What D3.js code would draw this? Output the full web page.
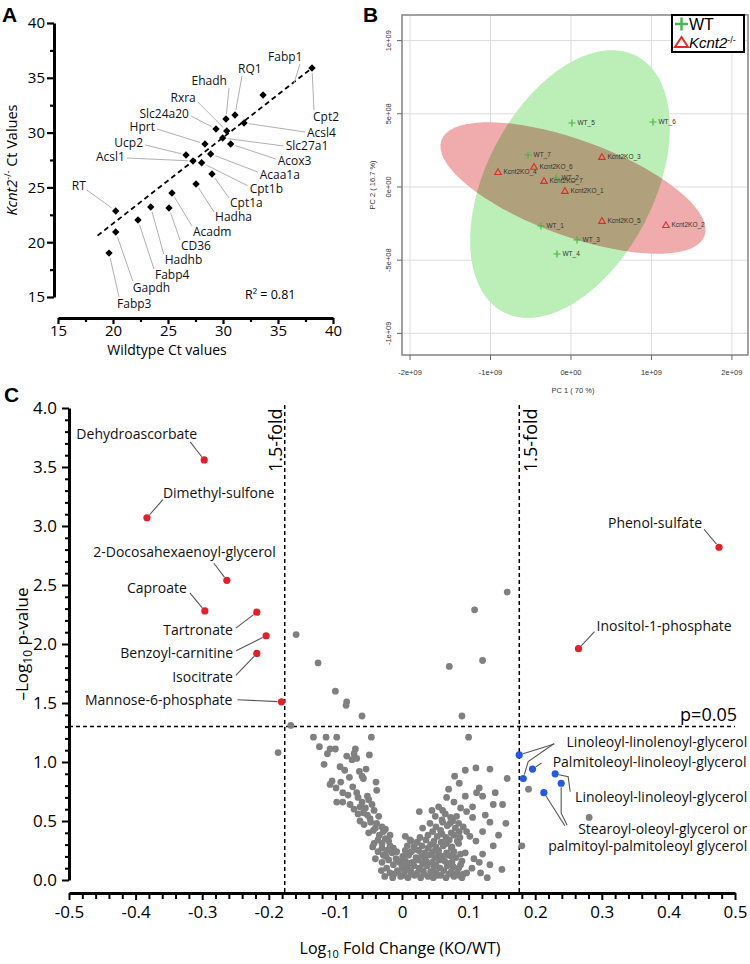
<!DOCTYPE html>
<html><head><meta charset="utf-8">
<script src="https://cdn.jsdelivr.net/npm/d3@7/dist/d3.min.js"></script>
<style>
body{margin:0;background:#fff;}
svg{font-family:"Open Sans",sans-serif;display:block;}
</style></head><body>
<svg id="c" width="750" height="964"></svg>
<script>
// ================= DATA =================
// Panel A: qPCR Ct values
const genes = ["Fabp3","Gapdh","RT","Fabp4","Hadhb","CD36","Acadm","Hadha","Cpt1a","Cpt1b","Acsl1","Acaa1a","Ucp2","Hprt","Acox3","Slc27a1","Slc24a20","Rxra","Acsl4","Ehadh","RQ1","Fabp1","Cpt2"];
const wtCt = [19.64,20.25,20.25,22.27,23.43,25.09,25.36,27.55,29.0,28.06,27.27,28.88,26.64,28.36,30.7,29.97,29.36,30.34,31.91,30.27,31.09,33.64,38.09];
const koCt = [19.01,20.93,22.85,22.03,23.21,23.12,24.49,25.31,26.22,27.25,27.41,28.05,27.96,28.96,28.96,29.51,30.33,30.15,30.88,31.24,31.61,33.43,35.89];
const trendWt = [18.6, 38.1];
const trendKo = [20.6, 35.9];
const aTicks = [15,20,25,30,35,40];
const aMinor = [17.5,22.5,27.5,32.5,37.5];
const rSquared = "0.81";

// Panel B: PCA scores
const pcaSamples = ["WT_1","WT_2","WT_3","WT_4","WT_5","WT_6","WT_7","Kcnt2KO_1","Kcnt2KO_2","Kcnt2KO_3","Kcnt2KO_4","Kcnt2KO_5","Kcnt2KO_6","Kcnt2KO_7"];
const pcaGroup = ["WT","WT","WT","WT","WT","WT","WT","KO","KO","KO","KO","KO","KO","KO"];
const pc1 = [-0.373e9,-0.186e9,0.075e9,-0.174e9,0.012e9,1.019e9,-0.534e9,-0.075e9,1.18e9,0.385e9,-0.907e9,0.385e9,-0.46e9,-0.335e9];
const pc2 = [-2.66e8,0.61e8,-3.62e8,-4.58e8,4.37e8,4.44e8,2.19e8,-0.27e8,-2.6e8,2.05e8,1.02e8,-2.32e8,1.37e8,0.41e8];
const wtEllipseCenter = [-0.012e9, 0.02e9];
const wtEllipseAxes = [[0.826e9, 0.876e9],[0.927e9,-0.264e9]];
const koEllipseCenter = [0.025e9, -0.007e9];
const koEllipseAxes = [[1.635e9,-0.327e9],[-0.204e9,-0.308e9]];
const pcXTicks = [-2e9,-1e9,0,1e9,2e9];
const pcXLabels = ["-2e+09","-1e+09","0e+00","1e+09","2e+09"];
const pcYTicks = [-1e9,-5e8,0,5e8,1e9];
const pcYLabels = ["-1e+09","-5e+08","0e+00","5e+08","1e+09"];

// Panel C: volcano
const redNames = ["Dehydroascorbate","Dimethyl-sulfone","2-Docosahexaenoyl-glycerol","Caproate","Tartronate","Benzoyl-carnitine","Isocitrate","Mannose-6-phosphate","Phenol-sulfate","Inositol-1-phosphate"];
const redFC = [-0.297,-0.383,-0.263,-0.296,-0.218,-0.204,-0.218,-0.181,0.476,0.265];
const redP  = [3.56,3.07,2.54,2.28,2.27,2.07,1.92,1.51,2.82,1.96];
const blueIds = ["A","B","C","D","E","F"];
const blueFC = [0.176,0.196,0.182,0.230,0.239,0.213];
const blueP  = [1.06,0.94,0.86,0.90,0.82,0.74];
const grayFC = [0.158,0.109,-0.159,-0.126,0.071,0.121,-0.100,-0.083,-0.084,-0.060,0.090,-0.167,0.100,-0.186,
-0.133,-0.114,-0.098,-0.046,-0.124,-0.108,-0.100,-0.112,-0.070,-0.049,-0.083,-0.075,-0.068,-0.072,-0.054,-0.079,-0.060,-0.039,-0.105,-0.092,-0.099,-0.108,-0.074,-0.068,-0.038,-0.052,-0.098,-0.089,-0.072,-0.063,-0.058,-0.050,-0.045,-0.042,-0.035,-0.048,-0.038,-0.030,-0.043,-0.028,-0.034,-0.025,-0.020,-0.030,-0.018,-0.023,-0.013,-0.028,-0.015,-0.008,-0.020,-0.009,-0.023,-0.013,-0.003,-0.018,-0.006,0.002,
-0.064,-0.058,-0.081,-0.066,-0.060,-0.078,-0.055,-0.066,-0.052,-0.047,-0.057,-0.040,-0.050,-0.036,-0.042,-0.030,-0.036,-0.024,-0.030,-0.012,-0.026,-0.014,-0.031,-0.040,-0.044,-0.089,-0.086,-0.093,-0.117,-0.063,-0.025,-0.018,
-0.002,0.009,0.019,0.028,0.039,0.047,0.058,0.066,0.078,0.086,
-0.007,0.004,0.013,0.023,0.032,0.043,0.051,0.063,0.074,0.083,0.092,
0.000,0.008,0.018,0.026,0.038,0.048,0.057,0.068,0.077,0.085,
-0.004,0.005,0.016,0.024,0.036,0.045,0.056,0.064,0.075,
0.001,0.010,0.021,0.029,0.040,0.049,0.061,0.070,0.081,
0.005,0.014,0.025,0.034,0.046,0.055,0.067,0.078,
0.008,0.018,0.030,0.039,0.051,0.062,0.074,
0.014,0.023,0.036,0.048,0.059,0.071,0.083,
0.005,0.039,0.053,0.066,0.078,
0.046,0.058,0.074,0.086,
0.051,0.068,0.080,
0.061,0.076,
0.050,0.073,
0.003,0.014,0.033,0.053,0.071,0.090,0.011,0.031,0.051,0.072,0.088,0.006,0.034,0.055,0.075,0.088,0.020,0.043,0.067,0.027,0.060,0.087,0.031,0.042,0.085,0.065,0.082,0.055,0.088,0.070,0.079,0.125,0.145,0.105,0.118,
0.012,0.026,0.045,0.061,0.060,0.072,0.067,0.078,0.086,0.095,0.111,0.132,0.158,0.116,0.112,0.095,0.121,0.140,0.106,0.137,0.151,0.097,0.106,0.132,0.156,0.097,0.121,0.111,0.137,0.095,0.108,0.121,0.116,0.132,0.150,0.128,0.092,0.085,0.102,0.075,0.090,0.097,
0.190,0.180,0.281];
const grayP = [2.44,2.29,2.08,1.84,1.81,1.86,1.60,1.51,1.48,1.39,1.39,1.31,1.21,1.08,
1.21,1.21,1.21,1.21,1.13,1.11,1.11,1.07,1.11,1.06,1.05,1.02,1.03,1.07,0.94,0.87,0.88,0.83,0.84,0.83,0.78,0.81,0.79,0.74,0.76,0.71,0.66,0.66,0.60,0.62,0.57,0.68,0.64,0.59,0.54,0.52,0.48,0.45,0.42,0.41,0.38,0.35,0.33,0.31,0.29,0.25,0.27,0.21,0.23,0.24,0.17,0.18,0.10,0.13,0.16,0.06,0.07,0.10,
0.92,0.86,0.72,0.70,0.66,0.64,0.61,0.56,0.55,0.49,0.47,0.44,0.40,0.34,0.31,0.27,0.24,0.20,0.15,0.05,0.03,0.02,0.08,0.18,0.28,0.74,0.93,0.96,0.98,0.50,0.43,0.38,
0.03,0.02,0.04,0.02,0.03,0.02,0.04,0.02,0.03,0.04,
0.08,0.07,0.08,0.06,0.08,0.07,0.06,0.08,0.07,0.06,0.05,
0.12,0.11,0.12,0.10,0.12,0.11,0.10,0.12,0.11,0.10,
0.15,0.16,0.15,0.17,0.16,0.15,0.17,0.16,0.15,
0.20,0.21,0.19,0.20,0.21,0.19,0.20,0.21,0.19,
0.25,0.24,0.25,0.23,0.24,0.25,0.23,0.24,
0.29,0.28,0.29,0.27,0.28,0.29,0.27,
0.33,0.32,0.34,0.33,0.32,0.34,0.33,
0.37,0.38,0.37,0.36,0.38,
0.41,0.42,0.40,0.41,
0.45,0.46,0.44,
0.49,0.50,
0.54,0.53,
0.04,0.05,0.05,0.04,0.05,0.02,0.14,0.14,0.13,0.14,0.13,0.22,0.19,0.22,0.20,0.22,0.26,0.30,0.31,0.36,0.39,0.36,0.44,0.48,0.48,0.56,0.54,0.62,0.61,0.77,0.88,0.55,0.38,0.10,0.06,
0.34,0.58,0.59,0.59,0.51,0.48,0.70,0.66,0.82,0.93,0.95,0.94,0.86,0.78,0.74,0.71,0.71,0.74,0.62,0.64,0.64,0.58,0.53,0.49,0.48,0.41,0.41,0.33,0.29,0.23,0.18,0.22,0.15,0.13,0.09,0.02,0.45,0.31,0.37,0.28,0.16,0.06,
0.77,0.29,0.53];
const cXTicks = [-0.5,-0.4,-0.3,-0.2,-0.1,0,0.1,0.2,0.3,0.4,0.5];
const cYTicks = [0,0.5,1,1.5,2,2.5,3,3.5,4];
const foldThreshold = Math.log10(1.5);
const pThreshold = -Math.log10(0.05);

// ================= DRAW =================
const svg = d3.select("#c");

function leader(g, px, py, offs, gap, open, color, w){
  const pts = offs.map(o=>[px+o[0], py+o[1]]);
  if(!open){
    const last = pts[pts.length-1];
    const dx = px-last[0], dy = py-last[1];
    const L = Math.hypot(dx,dy) || 1;
    pts.push([px - dx/L*gap, py - dy/L*gap]);
  }
  g.append("path").attr("d", d3.line()(pts)).attr("fill","none")
    .attr("stroke",color).attr("stroke-width",w);
}
function styleAxis(sel, dw, tw, fs, ff){
  sel.select(".domain").attr("stroke","#000").attr("stroke-width",dw);
  sel.selectAll(".tick line").attr("stroke","#000").attr("stroke-width",tw);
  sel.selectAll(".tick text").attr("fill","#000").attr("font-size",fs).attr("font-family",ff);
}

// ---------- Panel A ----------
const xA = d3.scaleLinear().domain([15,40]).range([58,333]);
const yA = d3.scaleLinear().domain([15,40]).range([297,23]);
const gA = svg.append("g");
const FA = "Open Sans";

let ax = gA.append("g").attr("transform","translate(0,318)")
  .call(d3.axisBottom(xA).tickValues(aTicks).tickSize(6).tickSizeOuter(0).tickPadding(1).tickFormat(d3.format("d")));
styleAxis(ax, 3, 2.2, 15, FA);
let axm = gA.append("g").attr("transform","translate(0,318)")
  .call(d3.axisBottom(xA).tickValues(aMinor).tickSize(4).tickFormat(""));
axm.select(".domain").remove(); axm.selectAll("line").attr("stroke","#000").attr("stroke-width",2.2);

let ay = gA.append("g").attr("transform","translate(54,0)")
  .call(d3.axisLeft(yA).tickValues(aTicks).tickSize(7).tickSizeOuter(0).tickPadding(2).tickFormat(d3.format("d")));
styleAxis(ay, 3, 2.2, 15, FA);
let aym = gA.append("g").attr("transform","translate(54,0)")
  .call(d3.axisLeft(yA).tickValues(aMinor).tickSize(4).tickFormat(""));
aym.select(".domain").remove(); aym.selectAll("line").attr("stroke","#000").attr("stroke-width",2.2);

gA.append("text").attr("x",167).attr("y",355).attr("text-anchor","middle")
  .attr("font-size",14).text("Wildtype Ct values");
const yt = gA.append("text").attr("transform","translate(17,160) rotate(-90)")
  .attr("text-anchor","middle").attr("font-size",14.5);
yt.append("tspan").attr("font-style","italic").text("Kcnt2");
yt.append("tspan").attr("font-size",9).attr("dy",-6).text("-/-");
yt.append("tspan").attr("dy",6).text(" Ct Values");

// trend
gA.append("line").attr("x1",xA(trendWt[0])).attr("y1",yA(trendKo[0]))
  .attr("x2",xA(trendWt[1])).attr("y2",yA(trendKo[1]))
  .attr("stroke","#000").attr("stroke-width",1.8).attr("stroke-dasharray","5,3.5");

// annotations
const annA = {
 "Fabp3":{a:"start",t:[8,51],l:[[10,44]]},
 "Gapdh":{a:"start",t:[17,56],l:[[17,49]]},
 "RT":{a:"end",t:[-30,-25],l:[[-29,-21]]},
 "Fabp4":{a:"start",t:[17,55],l:[[16,49]]},
 "Hadhb":{a:"start",t:[14,53],l:[[13,47]]},
 "CD36":{a:"start",t:[12,38],l:[[11,32]]},
 "Acadm":{a:"start",t:[21,39],l:[[20,33]]},
 "Hadha":{a:"start",t:[19,33],l:[[18,28]]},
 "Cpt1a":{a:"start",t:[18,29],l:[[17,24]]},
 "Cpt1b":{a:"start",t:[48,26],l:[[46,23]]},
 "Acsl1":{a:"end",t:[-68,-4],l:[[-66,-3]]},
 "Acaa1a":{a:"start",t:[49,21],l:[[47,18]]},
 "Ucp2":{a:"end",t:[-43,-12],l:[[-41,-10]]},
 "Hprt":{a:"end",t:[-50,-17],l:[[-48,-15]]},
 "Acox3":{a:"start",t:[47,17],l:[[45,15]]},
 "Slc27a1":{a:"start",t:[63,8],l:[[61,8]]},
 "Slc24a20":{a:"end",t:[-27,-15],l:[[-25,-13]]},
 "Rxra":{a:"end",t:[-31,-33],l:[[-29,-29]]},
 "Acsl4":{a:"start",t:[63,10],l:[[61,9]]},
 "Ehadh":{a:"end",t:[1,-38],l:[[3,-31]]},
 "RQ1":{a:"start",t:[3,-46],l:[[7,-39]]},
 "Fabp1":{a:"start",t:[5,-38],l:[[37,-31],[31,-12]],open:true},
 "Cpt2":{a:"start",t:[1,49],l:[[2,42]]}
};
const gLead = gA.append("g");
genes.forEach((g,i)=>{
  const o = annA[g]; if(!o) return;
  const px = xA(wtCt[i]), py = yA(koCt[i]);
  leader(gLead, px, py, o.l, 5, o.open, "#b0b0b0", 1);
  gA.append("text").attr("x",px+o.t[0]).attr("y",py+o.t[1]).attr("dy","0.35em")
    .attr("text-anchor",o.a).attr("font-size",12).attr("fill","#111").text(g);
});
gA.selectAll("path.dia").data(genes).enter().append("path").attr("class","dia")
  .attr("d", d3.symbol(d3.symbolSquare, 27))
  .attr("transform",(d,i)=>`translate(${xA(wtCt[i])},${yA(koCt[i])}) rotate(45)`)
  .attr("fill","#000");
gA.append("text").attr("x",245).attr("y",295).attr("dy","0.35em").attr("font-size",12.5)
  .html("R² = "+rSquared);
svg.append("text").attr("x",2).attr("y",22).attr("font-family","Liberation Sans")
  .attr("font-weight","bold").attr("font-size",21).text("A");

// ---------- Panel B ----------
const FB = "Liberation Sans";
const xB = d3.scaleLinear().domain([-2.1e9,2.2e9]).range([402,748]);
const yB = d3.scaleLinear().domain([-1.148e9,1.175e9]).range([355,15]);
const gB = svg.append("g").attr("font-family",FB);
// grid
gB.selectAll("line.gx").data(pcXTicks).enter().append("line")
  .attr("x1",d=>xB(d)).attr("x2",d=>xB(d)).attr("y1",15).attr("y2",355)
  .attr("stroke","#dcdcdc").attr("stroke-width",1);
gB.selectAll("line.gy").data(pcYTicks).enter().append("line")
  .attr("y1",d=>yB(d)).attr("y2",d=>yB(d)).attr("x1",402).attr("x2",748)
  .attr("stroke","#dcdcdc").attr("stroke-width",1);
// ellipses
function ellPath(c, axes){
  const pts = d3.range(0, 73).map(k=>{
    const t = k/72*2*Math.PI;
    return [xB(c[0]+axes[0][0]*Math.cos(t)+axes[1][0]*Math.sin(t)),
            yB(c[1]+axes[0][1]*Math.cos(t)+axes[1][1]*Math.sin(t))];
  });
  return d3.line().curve(d3.curveLinearClosed)(pts);
}
const gEll = gB.append("g").style("isolation","isolate");
gEll.append("path").attr("d",ellPath(wtEllipseCenter,wtEllipseAxes)).attr("fill","rgb(188,238,184)");
gEll.append("path").attr("d",ellPath(koEllipseCenter,koEllipseAxes)).attr("fill","rgb(240,172,172)")
  .style("mix-blend-mode","multiply");
// frame
gB.append("rect").attr("x",402).attr("y",15).attr("width",346).attr("height",340)
  .attr("fill","none").attr("stroke","#8a8a8a").attr("stroke-width",1.6);
// ticks
gB.selectAll("line.tx").data(pcXTicks).enter().append("line")
  .attr("x1",d=>xB(d)).attr("x2",d=>xB(d)).attr("y1",355).attr("y2",360).attr("stroke","#666");
gB.selectAll("text.tx").data(pcXTicks).enter().append("text")
  .attr("x",d=>xB(d)).attr("y",372).attr("dy","0.35em").attr("text-anchor","middle")
  .attr("font-size",7.5).attr("fill","#333").text((d,i)=>pcXLabels[i]);
gB.selectAll("line.ty").data(pcYTicks).enter().append("line")
  .attr("y1",d=>yB(d)).attr("y2",d=>yB(d)).attr("x1",397).attr("x2",402).attr("stroke","#666");
gB.selectAll("text.ty").data(pcYTicks).enter().append("text")
  .attr("transform",d=>`translate(388,${yB(d)}) rotate(-90)`).attr("dy","0.35em")
  .attr("text-anchor","middle").attr("font-size",7.5).attr("fill","#333").text((d,i)=>pcYLabels[i]);
gB.append("text").attr("x",573).attr("y",390).attr("dy","0.35em").attr("text-anchor","middle")
  .attr("font-size",7.5).attr("fill","#333").text("PC 1 ( 70 %)");
gB.append("text").attr("transform","translate(372,185) rotate(-90)").attr("dy","0.35em")
  .attr("text-anchor","middle").attr("font-size",7.5).attr("fill","#333").text("PC 2 ( 16.7 %)");
// points
const WTC = "#49b649", KOC = "#e32a2a";
pcaSamples.forEach((s,i)=>{
  const px = xB(pc1[i]), py = yB(pc2[i]);
  if(pcaGroup[i]==="WT"){
    gB.append("path").attr("d",`M${px-3.5},${py}H${px+3.5}M${px},${py-3.5}V${py+3.5}`)
      .attr("stroke",WTC).attr("stroke-width",1.2);
  } else {
    gB.append("path").attr("d",`M${px},${py-3.3}L${px+3.3},${py+2.4}L${px-3.3},${py+2.4}Z`)
      .attr("fill","none").attr("stroke",KOC).attr("stroke-width",1.1);
  }
  gB.append("text").attr("x",px+5.5).attr("y",py).attr("dy","0.35em")
    .attr("font-size",6.5).attr("fill","#333").text(s);
});
// legend
gB.append("rect").attr("x",672).attr("y",15).attr("width",72).attr("height",37)
  .attr("fill","#fff").attr("stroke","#000").attr("stroke-width",2);
gB.append("path").attr("d","M675,24H688M681.5,17.5V30.5").attr("stroke",WTC).attr("stroke-width",2.4);
gB.append("text").attr("x",689).attr("y",24).attr("dy","0.36em").attr("font-size",16).text("WT");
gB.append("path").attr("d","M681.5,37L688,47L675,47Z").attr("fill","none").attr("stroke",KOC).attr("stroke-width",2);
const lk = gB.append("text").attr("x",689).attr("y",43).attr("dy","0.36em").attr("font-size",15);
lk.append("tspan").attr("font-style","italic").text("Kcnt2");
lk.append("tspan").attr("font-size",9).attr("dy",-5).text("-/-");
svg.append("text").attr("x",363).attr("y",22).attr("font-family","Liberation Sans")
  .attr("font-weight","bold").attr("font-size",21).text("B");

// ---------- Panel C ----------
const FC = "Open Sans";
const xC = d3.scaleLinear().domain([-0.5,0.5]).range([69,735]);
const yC = d3.scaleLinear().domain([0,4]).range([880,408]);
const gC = svg.append("g");
const fmtX = d=> Math.abs(d)<1e-9 ? "0" : (d<0?"-":"")+Math.abs(d).toFixed(1);
let cx = gC.append("g").attr("transform","translate(0,893)")
  .call(d3.axisBottom(xC).tickValues(cXTicks).tickSize(7).tickSizeOuter(0).tickPadding(6).tickFormat(fmtX));
styleAxis(cx, 3, 2, 17, FC);
let cxm = gC.append("g").attr("transform","translate(0,893)")
  .call(d3.axisBottom(xC).tickValues(d3.range(-25,26).filter(k=>k%5!==0).map(k=>k*0.02)).tickSize(6).tickFormat(""));
cxm.select(".domain").remove(); cxm.selectAll("line").attr("stroke","#000").attr("stroke-width",2);
let cy = gC.append("g").attr("transform","translate(69,0)")
  .call(d3.axisLeft(yC).tickValues(cYTicks).tickSize(7).tickSizeOuter(0).tickPadding(5).tickFormat(d3.format(".1f")));
styleAxis(cy, 3, 2, 17, FC);
let cym = gC.append("g").attr("transform","translate(69,0)")
  .call(d3.axisLeft(yC).tickValues(d3.range(0,41).filter(k=>k%5!==0).map(k=>k*0.1)).tickSize(4).tickFormat(""));
cym.select(".domain").remove(); cym.selectAll("line").attr("stroke","#000").attr("stroke-width",2);

const xtC = gC.append("text").attr("x",400).attr("y",954).attr("text-anchor","middle").attr("font-size",16);
xtC.append("tspan").text("Log");
xtC.append("tspan").attr("font-size",11).attr("dy",4).text("10");
xtC.append("tspan").attr("dy",-4).text(" Fold Change (KO/WT)");
const ytC = gC.append("text").attr("transform","translate(28,644) rotate(-90)").attr("text-anchor","middle").attr("font-size",17);
ytC.append("tspan").text("–Log");
ytC.append("tspan").attr("font-size",12).attr("dy",4).text("10");
ytC.append("tspan").attr("dy",-4).text(" p-value");

// threshold lines
[-foldThreshold, foldThreshold].forEach(v=>{
  gC.append("line").attr("x1",xC(v)).attr("x2",xC(v)).attr("y1",405).attr("y2",893)
    .attr("stroke","#000").attr("stroke-width",1.5).attr("stroke-dasharray","4,3");
});
gC.append("line").attr("x1",69).attr("x2",735).attr("y1",yC(pThreshold)).attr("y2",yC(pThreshold))
  .attr("stroke","#000").attr("stroke-width",1.5).attr("stroke-dasharray","4,3");
gC.append("text").attr("transform",`translate(${xC(-foldThreshold)-3},472) rotate(-90)`)
  .attr("font-size",18).text("1.5-fold");
gC.append("text").attr("transform",`translate(${xC(foldThreshold)+18},472) rotate(-90)`)
  .attr("font-size",18).text("1.5-fold");
gC.append("text").attr("x",737).attr("y",yC(pThreshold)-12).attr("dy","0.35em")
  .attr("text-anchor","end").attr("font-size",18).text("p=0.05");

// gray points
gC.selectAll("circle.g").data(grayFC).enter().append("circle")
  .attr("cx",d=>xC(d)).attr("cy",(d,i)=>yC(grayP[i])).attr("r",3.4).attr("fill","#808080");

// red annotations
const annC = {
 "Dehydroascorbate":{a:"end",t:[-7,-26],l:[[-14,-18]]},
 "Dimethyl-sulfone":{a:"start",t:[16,-25],l:[[16,-18]]},
 "2-Docosahexaenoyl-glycerol":{a:"end",t:[49,-28],l:[[-13,-17]]},
 "Caproate":{a:"end",t:[-18,-23],l:[[-15,-18]]},
 "Tartronate":{a:"end",t:[-24,18],l:[[-21,16]]},
 "Benzoyl-carnitine":{a:"end",t:[-33,17],l:[[-30,15]]},
 "Isocitrate":{a:"end",t:[-24,24],l:[[-21,22]]},
 "Mannose-6-phosphate":{a:"end",t:[-49,-2],l:[[-44,-2]]},
 "Phenol-sulfate":{a:"end",t:[-17,-24],l:[[-15,-18]]},
 "Inositol-1-phosphate":{a:"start",t:[18,-23],l:[[16,-17]]}
};
const gLC = gC.append("g");
redNames.forEach((n,i)=>{
  const px = xC(redFC[i]), py = yC(redP[i]); const o = annC[n];
  leader(gLC, px, py, o.l, 4, false, "#555", 1.1);
  gC.append("text").attr("x",px+o.t[0]).attr("y",py+o.t[1]).attr("dy","0.35em")
    .attr("text-anchor",o.a).attr("font-size",14).attr("fill","#111").text(n);
});
// blue annotations
const bp = id=>{const i=blueIds.indexOf(id); return [xC(blueFC[i]), yC(blueP[i])];};
const blueAnn = [
 {lines:["Linoleoyl-linolenoyl-glycerol"], ref:"A", t:[228,-13], leads:[["A",[[35,-11]]],["C",[[31,-35],[5,-17]]]]},
 {lines:["Palmitoleoyl-linoleoyl-glycerol"], ref:"B", t:[214,-7], leads:[["B",[[9,-6]]]]},
 {lines:["Linoleoyl-linoleoyl-glycerol"], ref:"D", t:[192,23], leads:[["D",[[15,18],[13,3]]]]},
 {lines:["Stearoyl-oleoyl-glycerol or","palmitoyl-palmitoleoyl glycerol"], ref:"E", t:[186,46], leads:[["E",[[6,42],[0,30]]],["F",[[21,33]]]]}
];
blueAnn.forEach(b=>{
  b.leads.forEach(([id,offs])=>{ const p=bp(id); leader(gLC,p[0],p[1],offs,4,false,"#555",1.1); });
  const r = bp(b.ref);
  b.lines.forEach((ln,k)=>{
    gC.append("text").attr("x",r[0]+b.t[0]).attr("y",r[1]+b.t[1]+k*17).attr("dy","0.35em")
      .attr("text-anchor","end").attr("font-size",14).attr("fill","#111").text(ln);
  });
});
gC.selectAll("circle.r").data(redFC).enter().append("circle")
  .attr("cx",d=>xC(d)).attr("cy",(d,i)=>yC(redP[i])).attr("r",3.6).attr("fill","#e3202a");
gC.selectAll("circle.b").data(blueFC).enter().append("circle")
  .attr("cx",d=>xC(d)).attr("cy",(d,i)=>yC(blueP[i])).attr("r",3.6).attr("fill","#2459e8");
svg.append("text").attr("x",4).attr("y",402).attr("font-family","Liberation Sans")
  .attr("font-weight","bold").attr("font-size",21).text("C");
</script>
</body></html>
